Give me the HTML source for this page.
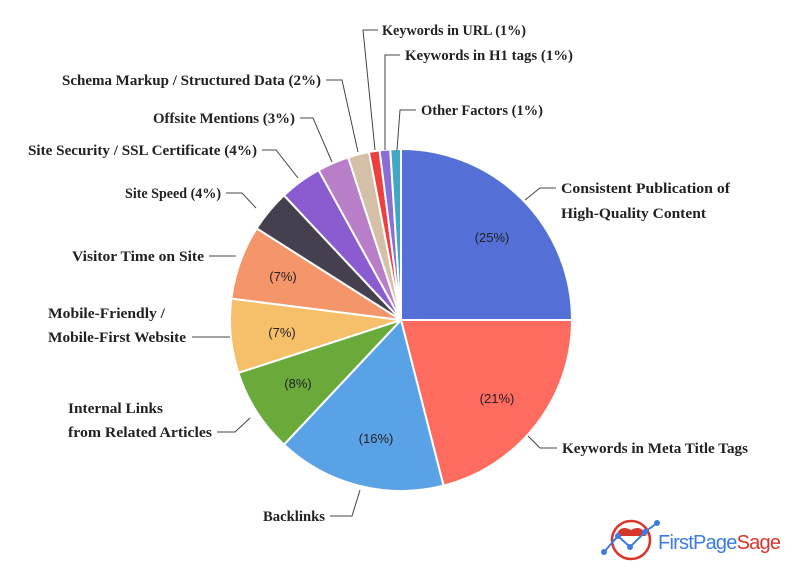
<!DOCTYPE html>
<html><head><meta charset="utf-8"><style>
html,body{margin:0;padding:0;background:#fff;}
svg{display:block;}
.l{font-family:"Liberation Serif","DejaVu Serif",serif;font-weight:bold;font-size:15px;fill:#222;}
.p{font-family:"Liberation Sans",sans-serif;font-size:13px;fill:#222;text-anchor:middle;}
.ln{stroke:#444;stroke-width:1;fill:none;}
</style></head><body>
<svg id="s" width="800" height="582" viewBox="0 0 800 582" xmlns="http://www.w3.org/2000/svg">
<g id="pie"></g>
<g class="ln">
<polyline points="378,30 363,30 375,150"/>
<polyline points="400,55 385,55 385,150"/>
<polyline points="416,110 400,110 397,150"/>
<polyline points="326,80 342,80 358,152"/>
<polyline points="300,118 313,118 332,162"/>
<polyline points="262,150 276,150 298,178"/>
<polyline points="226,193 242,193 256,208"/>
<polyline points="209,256 236,256"/>
<polyline points="192,337 230,337"/>
<polyline points="217,432 235,432 250,418"/>
<polyline points="330,516 352,516 360,490"/>
<polyline points="557,448 540,448 528,436"/>
<polyline points="556,188 540,188 525,200"/>
</g>
<g lengthAdjust="spacingAndGlyphs">
<text class="l" lengthAdjust="spacingAndGlyphs" x="382" y="35" textLength="144">Keywords in URL (1%)</text>
<text class="l" lengthAdjust="spacingAndGlyphs" x="405" y="60" textLength="168">Keywords in H1 tags (1%)</text>
<text class="l" lengthAdjust="spacingAndGlyphs" x="421" y="115" textLength="122">Other Factors (1%)</text>
<text class="l" lengthAdjust="spacingAndGlyphs" x="62" y="85" textLength="259">Schema Markup / Structured Data (2%)</text>
<text class="l" lengthAdjust="spacingAndGlyphs" x="153" y="123" textLength="142">Offsite Mentions (3%)</text>
<text class="l" lengthAdjust="spacingAndGlyphs" x="28" y="155" textLength="229">Site Security / SSL Certificate (4%)</text>
<text class="l" lengthAdjust="spacingAndGlyphs" x="125" y="198" textLength="96">Site Speed (4%)</text>
<text class="l" lengthAdjust="spacingAndGlyphs" x="72" y="261" textLength="132">Visitor Time on Site</text>
<text class="l" lengthAdjust="spacingAndGlyphs" x="48" y="318" textLength="117">Mobile-Friendly /</text>
<text class="l" lengthAdjust="spacingAndGlyphs" x="48" y="342" textLength="138">Mobile-First Website</text>
<text class="l" lengthAdjust="spacingAndGlyphs" x="68" y="413" textLength="95">Internal Links</text>
<text class="l" lengthAdjust="spacingAndGlyphs" x="68" y="437" textLength="144">from Related Articles</text>
<text class="l" lengthAdjust="spacingAndGlyphs" x="263" y="521" textLength="62">Backlinks</text>
<text class="l" lengthAdjust="spacingAndGlyphs" x="562" y="453" textLength="186">Keywords in Meta Title Tags</text>
<text class="l" lengthAdjust="spacingAndGlyphs" x="561" y="193" textLength="169">Consistent Publication of</text>
<text class="l" lengthAdjust="spacingAndGlyphs" x="561" y="218" textLength="145">High-Quality Content</text>
</g>
<text class="p" x="492" y="242">(25%)</text>
<text class="p" x="497" y="403">(21%)</text>
<text class="p" x="376" y="443">(16%)</text>
<text class="p" x="298" y="388">(8%)</text>
<text class="p" x="282" y="337">(7%)</text>
<text class="p" x="283" y="281">(7%)</text>
<circle cx="631" cy="540" r="19" fill="none" stroke="#d9362b" stroke-width="2.5"/>
<path d="M616,536 Q620,524 631,530 Q642,524 646,536 Z" fill="#d9362b"/>
<polyline points="604,552 618,536 630,547 645,532 657,523" fill="none" stroke="#3d7be0" stroke-width="2"/>
<circle cx="604" cy="552" r="3" fill="#3d7be0"/><circle cx="618" cy="536" r="3" fill="#3d7be0"/>
<circle cx="630" cy="547" r="3" fill="#3d7be0"/><circle cx="645" cy="532" r="3" fill="#3d7be0"/><circle cx="657" cy="523" r="3" fill="#3d7be0"/>
<text x="658" y="549" font-family="Liberation Sans,sans-serif" font-size="20" textLength="123"><tspan fill="#3d7be0">FirstPage</tspan><tspan fill="#d9362b">Sage</tspan></text>
</svg>
<script>
var d=[[25,"#5470d6"],[21,"#ff6b5e"],[16,"#5aa2e6"],[8,"#6aaa3a"],[7,"#f6c06a"],[7,"#f5956a"],[4,"#44404f"],[4,"#8a5cd0"],[3,"#b97ec8"],[2,"#d4c0a6"],[1,"#ef3e3e"],[1,"#8a6ed6"],[1,"#40a8c4"]];
var cx=401,cy=320,r=171,a=0,g=document.getElementById("pie"),h="";
d.forEach(function(e){var a0=a,a1=a+e[0]/100*2*Math.PI;a=a1;
var x0=cx+r*Math.sin(a0),y0=cy-r*Math.cos(a0),x1=cx+r*Math.sin(a1),y1=cy-r*Math.cos(a1);
h+='<path d="M'+cx+','+cy+' L'+x0+','+y0+' A'+r+','+r+' 0 '+(a1-a0>Math.PI?1:0)+' 1 '+x1+','+y1+' Z" fill="'+e[1]+'" stroke="#fff" stroke-width="2"/>';});
g.innerHTML=h;
</script>
</body></html>
